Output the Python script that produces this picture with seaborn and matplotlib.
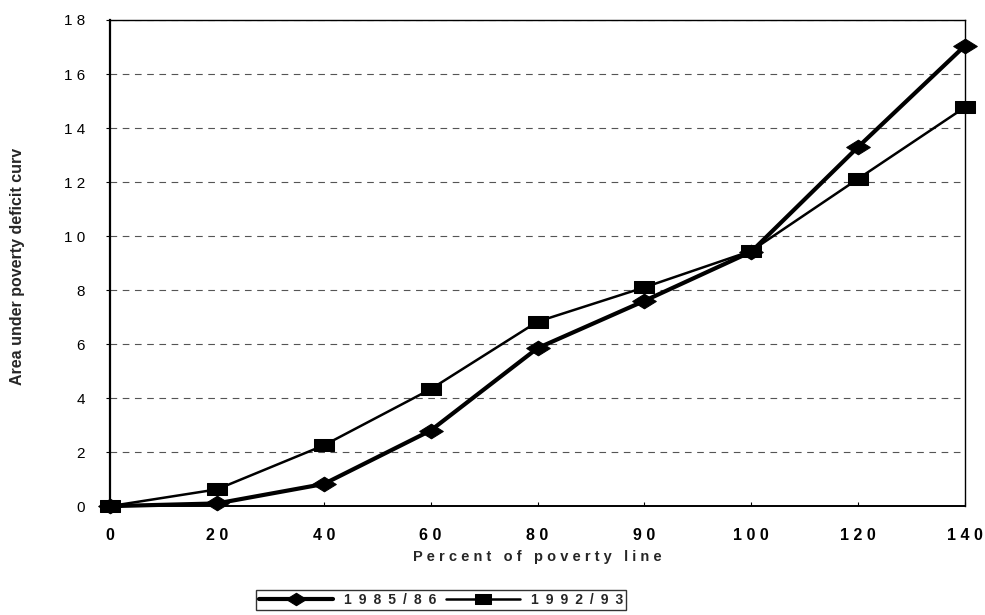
import matplotlib
matplotlib.use("Agg")
import matplotlib.pyplot as plt
from matplotlib.path import Path
import seaborn as sns
import pandas as pd

# Percent of poverty line (category labels, letter-spaced as printed)
percent_labels = ["0", "2 0", "4 0", "6 0", "8 0", "9 0", "1 0 0", "1 2 0", "1 4 0"]
# Area under the poverty deficit curve
area_1985 = [0.0, 0.1, 0.82, 2.8, 5.85, 7.6, 9.42, 13.3, 17.05]
area_1992 = [0.0, 0.62, 2.25, 4.33, 6.83, 8.1, 9.45, 12.12, 14.77]
series_names = ["1985/86", "1992/93"]
y_ticks = list(range(0, 19, 2))

sns.set_theme(style="white")
plt.rcParams["font.family"] = ["Liberation Sans", "DejaVu Sans"]

EN = "\u2002"
def spaced(s, sep=" "):
    return sep.join(s)

df85 = pd.DataFrame({"pct": percent_labels, "area": area_1985})
df92 = pd.DataFrame({"pct": percent_labels, "area": area_1992})

# wide, flat marker shapes
diamond = Path([(-1, 0), (0, 0.62), (1, 0), (0, -0.62), (-1, 0)],
               [Path.MOVETO, Path.LINETO, Path.LINETO, Path.LINETO, Path.CLOSEPOLY])
rect = Path([(-1, -0.64), (1, -0.64), (1, 0.64), (-1, 0.64), (-1, -0.64)],
            [Path.MOVETO, Path.LINETO, Path.LINETO, Path.LINETO, Path.CLOSEPOLY])

fig = plt.figure(figsize=(9.85, 6.15), dpi=100)
ax = fig.add_axes([0.1117, 0.177, 0.868, 0.7905])

sns.lineplot(data=df85, x="pct", y="area", ax=ax, color="black", linewidth=3.0,
             marker=diamond, markersize=17, markeredgecolor="black",
             markerfacecolor="black", label=spaced(series_names[0], EN),
             sort=False, clip_on=False, zorder=4)
sns.lineplot(data=df92, x="pct", y="area", ax=ax, color="black", linewidth=1.8,
             marker=rect, markersize=14, markeredgecolor="black",
             markerfacecolor="black", label=spaced(series_names[1], EN),
             sort=False, clip_on=False, zorder=3)

ax.set_xlim(0, len(percent_labels) - 1)
ax.set_ylim(0, 18)
ax.set_yticks(y_ticks)
ax.set_yticklabels([spaced(str(v)) for v in y_ticks], fontsize=11)
for t in ax.get_xticklabels():
    t.set_fontweight("bold")
    t.set_fontsize(11.5)

ax.yaxis.grid(True, color="#555555", linestyle=(0, (6, 5)), linewidth=0.8)
ax.xaxis.grid(False)
for s in ax.spines.values():
    s.set_visible(True)
    s.set_color("black")
    s.set_linewidth(1.0)
ax.spines["left"].set_linewidth(1.6)
ax.spines["bottom"].set_linewidth(1.4)

ax.tick_params(axis="y", direction="out", length=3, width=0.8, left=True, pad=15, colors="black")
ax.tick_params(axis="x", direction="in", length=3, width=0.8, bottom=True, pad=16, colors="black")

ax.set_xlabel("P e r c e n t   o f   p o v e r t y   l i n e", fontsize=10.5,
              fontweight="bold", labelpad=5)
ax.set_ylabel("Area under poverty deficit curv", fontsize=11.5, fontweight="bold")
ax.yaxis.set_label_coords(-0.1, 0.494)

ax.get_legend().remove()
handles, labels = ax.get_legend_handles_labels()
leg = fig.legend(handles, labels, loc="center", bbox_to_anchor=(441 / 985, 1 - 600 / 615),
                 ncol=2, frameon=True, fancybox=False, handlelength=5.3,
                 columnspacing=0.7, handletextpad=0.8, borderpad=0.25,
                 borderaxespad=0, markerscale=0.85,
                 prop={"weight": "bold", "size": 10})
leg.get_frame().set_edgecolor("black")
leg.get_frame().set_linewidth(1.0)

fig.savefig("out.png", dpi=100, facecolor="white")
